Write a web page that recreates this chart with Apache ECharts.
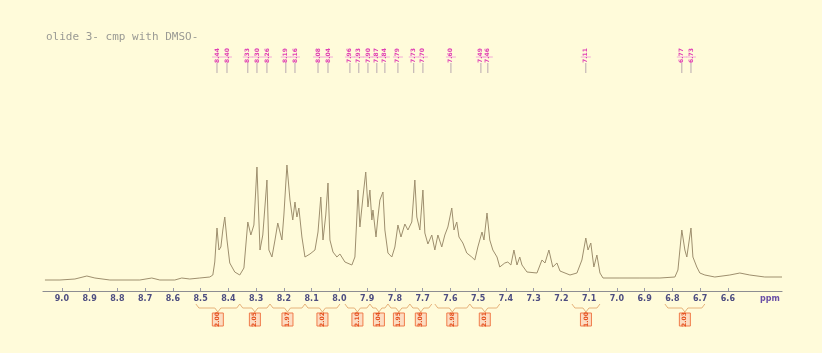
<!DOCTYPE html>
<html>
<head>
<meta charset="utf-8">
<title>1H NMR spectrum</title>
<script src="https://cdn.jsdelivr.net/npm/echarts@6/dist/echarts.min.js"></script>
<style>
  html, body { margin: 0; padding: 0; background: #fffbda; }
  #chart { width: 822px; height: 353px; }
</style>
</head>
<body>
<div id="chart"></div>
<script>
// Chemical shift (ppm) and intensity of the 1H spectrum trace
const shiftPpm = [
  9.061, 9.007, 8.953, 8.910, 8.881, 8.827, 8.719, 8.676, 8.647, 8.593,
  8.568, 8.539, 8.503, 8.467, 8.456, 8.449, 8.441, 8.434, 8.427, 8.420,
  8.413, 8.405, 8.395, 8.377, 8.359, 8.344, 8.330, 8.319, 8.308, 8.297,
  8.286, 8.276, 8.261, 8.254, 8.243, 8.232, 8.222, 8.207, 8.200, 8.189,
  8.178, 8.168, 8.160, 8.153, 8.146, 8.135, 8.124, 8.106, 8.088, 8.077,
  8.067, 8.059, 8.049, 8.041, 8.034, 8.023, 8.009, 7.998, 7.980, 7.955,
  7.944, 7.937, 7.933, 7.926, 7.915, 7.905, 7.897, 7.890, 7.883, 7.879,
  7.868, 7.861, 7.854, 7.843, 7.836, 7.825, 7.811, 7.800, 7.789, 7.778,
  7.764, 7.753, 7.739, 7.728, 7.721, 7.710, 7.699, 7.692, 7.681, 7.667,
  7.656, 7.645, 7.631, 7.620, 7.609, 7.595, 7.587, 7.577, 7.569, 7.555,
  7.541, 7.523, 7.512, 7.501, 7.486, 7.479, 7.468, 7.458, 7.447, 7.432,
  7.422, 7.404, 7.393, 7.382, 7.371, 7.360, 7.350, 7.342, 7.324, 7.288,
  7.270, 7.259, 7.245, 7.231, 7.216, 7.205, 7.187, 7.169, 7.144, 7.126,
  7.112, 7.104, 7.094, 7.083, 7.072, 7.061, 7.050, 6.989, 6.917, 6.845,
  6.791, 6.780, 6.766, 6.755, 6.748, 6.733, 6.726, 6.712, 6.701, 6.683,
  6.647, 6.593, 6.557, 6.521, 6.467, 6.405
];
const intensity = [
  11, 11, 12, 15, 13, 11, 11, 13, 11, 11,
  13, 12, 13, 14, 16, 29, 63, 41, 44, 61,
  74, 51, 28, 19, 16, 23, 69, 56, 66, 124,
  41, 56, 111, 41, 34, 51, 68, 51, 76, 126,
  91, 71, 89, 74, 83, 54, 34, 37, 41, 59,
  94, 51, 76, 108, 51, 39, 34, 37, 29, 26,
  34, 74, 101, 64, 94, 119, 84, 101, 71, 81,
  54, 74, 91, 99, 61, 38, 34, 44, 66, 54,
  67, 61, 69, 111, 74, 61, 101, 58, 47, 56,
  41, 56, 44, 56, 64, 83, 61, 69, 54, 48,
  38, 34, 31, 44, 59, 51, 78, 51, 41, 34,
  24, 28, 29, 26, 41, 26, 34, 26, 19, 18,
  31, 28, 41, 24, 28, 20, 18, 16, 18, 31,
  53, 41, 48, 24, 36, 18, 13, 13, 13, 13,
  14, 21, 61, 41, 34, 63, 34, 24, 18, 16,
  14, 16, 18, 16, 14, 14
];

// Picked peaks (ppm)
const peakPpm = [
  8.441, 8.405, 8.330, 8.297, 8.261, 8.193, 8.160, 8.077, 8.041,
  7.962, 7.930, 7.897, 7.865, 7.836, 7.789, 7.732, 7.699, 7.598,
  7.490, 7.465, 7.112, 6.766, 6.733
];

// Integration regions: start ppm, end ppm, integral value
const integralFrom = [8.517, 8.359, 8.250, 8.124, 7.980, 7.890, 7.825, 7.746, 7.656, 7.530, 7.162, 6.827];
const integralTo   = [8.359, 8.250, 8.124, 7.998, 7.890, 7.825, 7.746, 7.667, 7.530, 7.422, 7.061, 6.683];
const integralVal  = ['2.00', '2.05', '1.97', '2.02', '2.10', '1.04', '1.95', '3.06', '2.98', '2.01', '1.00', '2.03'];

// Axis tick positions
const tickPpm = [9.0, 8.9, 8.8, 8.7, 8.6, 8.5, 8.4, 8.3, 8.2, 8.1, 8.0, 7.9, 7.8,
                 7.7, 7.6, 7.5, 7.4, 7.3, 7.2, 7.1, 7.0, 6.9, 6.8, 6.7, 6.6];

const spectrum = shiftPpm.map((p, i) => [p, intensity[i]]);
const peaks = peakPpm.map(p => [p, 0]);
const integrals = integralFrom.map((f, i) => [f, integralTo[i], 0, integralVal[i]]);

const chart = echarts.init(document.getElementById('chart'));
chart.setOption({
  backgroundColor: '#fffbda',
  animation: false,
  title: {
    text: 'olide 3- cmp with DMSO-',
    left: 41,
    top: 27,
    textStyle: { fontFamily: 'DejaVu Sans Mono', fontSize: 11, fontWeight: 'normal', color: '#9a9a94' }
  },
  grid: { left: 43, right: 40, top: 11, bottom: 62 },
  xAxis: {
    type: 'value',
    inverse: true,
    min: 6.405,
    max: 9.068,
    name: 'ppm',
    nameLocation: 'start',
    nameGap: -12,
    nameTextStyle: {
      color: '#6a4fa6', fontSize: 8, fontWeight: 'bold', fontFamily: 'DejaVu Sans',
      align: 'center', verticalAlign: 'top', padding: [4, 0, 0, 0]
    },
    axisLine: { lineStyle: { color: '#8d8d92', width: 1.2 } },
    axisTick: { show: true, inside: true, length: 3, customValues: tickPpm, lineStyle: { color: '#9a9aa6' } },
    axisLabel: {
      customValues: tickPpm,
      formatter: v => v.toFixed(1),
      margin: 4,
      color: '#4d4d80',
      fontSize: 8,
      fontWeight: 'bold',
      fontFamily: 'DejaVu Sans'
    },
    splitLine: { show: false }
  },
  yAxis: {
    type: 'value',
    min: 0,
    max: 280,
    show: false
  },
  series: [
    {
      name: 'spectrum',
      type: 'line',
      data: spectrum,
      showSymbol: false,
      symbol: 'none',
      lineStyle: { color: '#9e8f6e', width: 1 },
      z: 3
    },
    {
      name: 'peaks',
      type: 'custom',
      data: peaks,
      encode: { x: 0, y: 1 },
      renderItem(params, api) {
        const v = api.value(0);
        const x = api.coord([v, 0])[0];
        return {
          type: 'group',
          children: [
            { type: 'line', shape: { x1: x - 5, y1: 57, x2: x + 5, y2: 57 },
              style: { stroke: '#f4a8d8', lineWidth: 1 } },
            { type: 'text', x: x, y: 55.5, rotation: Math.PI / 2,
              style: { text: v.toFixed(2), fill: '#e040b4', fontSize: 6, fontWeight: 'bold',
                       fontFamily: 'DejaVu Sans', align: 'center', verticalAlign: 'middle' } },
            { type: 'line', shape: { x1: x, y1: 63, x2: x, y2: 73 },
              style: { stroke: '#b8a8b0', lineWidth: 1 } }
          ]
        };
      },
      z: 4
    },
    {
      name: 'integrals',
      type: 'custom',
      data: integrals,
      encode: { x: [0, 1], y: 2 },
      renderItem(params, api) {
        const a = api.coord([api.value(0), 0]);
        const b = api.coord([api.value(1), 0]);
        const x1 = a[0], x2 = b[0], base = a[1];
        const xc = (x1 + x2) / 2;
        const label = integrals[params.dataIndex][3];
        return {
          type: 'group',
          children: [
            { type: 'polyline',
              shape: { points: [[x1, base + 13], [x1 + 3, base + 17], [xc - 3, base + 17], [xc, base + 21],
                                [xc + 3, base + 17], [x2 - 3, base + 17], [x2, base + 13]] },
              style: { stroke: '#e6b27a', lineWidth: 1, fill: null } },
            { type: 'rect', shape: { x: xc - 5.5, y: base + 22, width: 11, height: 13 },
              style: { fill: '#fcdcc2', stroke: '#f07c4a', lineWidth: 1 } },
            { type: 'text', x: xc, y: base + 28.5, rotation: Math.PI / 2,
              style: { text: label, fill: '#e4501e', fontSize: 6, fontWeight: 'bold',
                       fontFamily: 'DejaVu Sans', align: 'center', verticalAlign: 'middle' } }
          ]
        };
      },
      z: 4
    }
  ]
});
</script>
</body>
</html>
